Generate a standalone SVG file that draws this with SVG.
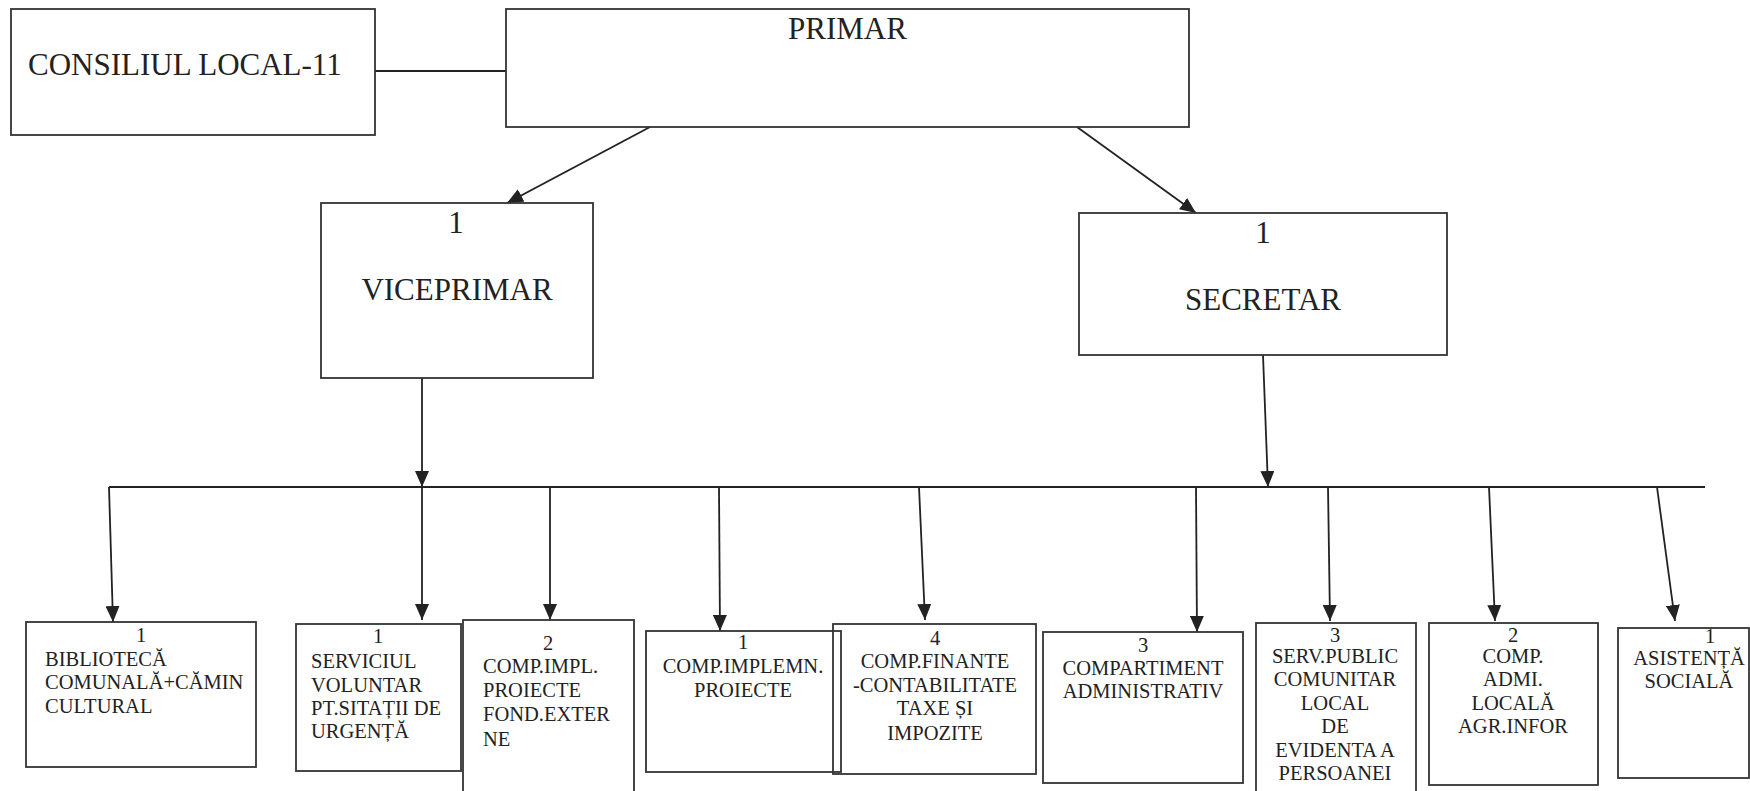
<svg xmlns="http://www.w3.org/2000/svg" width="1750" height="791" viewBox="0 0 1750 791">
<defs>
<marker id="ah" viewBox="0 0 16 14" refX="16" refY="7" markerWidth="16" markerHeight="14" markerUnits="userSpaceOnUse" orient="auto">
<path d="M0,0 L16,7 L0,14 z" fill="#222"/>
</marker>
<style>
rect{fill:#fff;stroke:#333;stroke-width:1.8}
.c line{stroke:#222;stroke-width:1.8;fill:none}
.c .a{marker-end:url(#ah)}
text{font-family:"Liberation Serif","Times New Roman",serif;fill:#222}
.big{font-size:31px}
.sm{font-size:20.5px}
.m{text-anchor:middle}
</style>
</defs>
<rect x="0" y="0" width="1750" height="791" style="fill:#fff;stroke:none"/>

<g class="c" id="connectors">
<line x1="375" y1="71" x2="506" y2="71"/>
<line class="a" x1="650" y1="127" x2="507" y2="203"/>
<line class="a" x1="1077" y1="127" x2="1196" y2="213"/>
<line class="a" x1="422" y1="378" x2="422" y2="487"/>
<line class="a" x1="1263" y1="355" x2="1268" y2="487"/>
<line x1="109" y1="487" x2="1705" y2="487"/>
<line class="a" x1="109" y1="487" x2="113" y2="622"/>
<line class="a" x1="422" y1="487" x2="422" y2="620"/>
<line class="a" x1="550" y1="487" x2="550" y2="620"/>
<line class="a" x1="719" y1="487" x2="720" y2="631"/>
<line class="a" x1="919" y1="487" x2="925" y2="620"/>
<line class="a" x1="1196" y1="487" x2="1197" y2="632"/>
<line class="a" x1="1328" y1="487" x2="1330" y2="621"/>
<line class="a" x1="1489" y1="487" x2="1495" y2="621"/>
<line class="a" x1="1657" y1="487" x2="1675" y2="621"/>
</g>

<g id="consiliul">
<rect x="11" y="9" width="364" height="126"/>
<text class="big" x="28" y="75">CONSILIUL LOCAL-11</text>
</g>

<g id="primar">
<rect x="506" y="9" width="683" height="118"/>
<text class="big m" x="847.5" y="39">PRIMAR</text>
</g>

<g id="viceprimar">
<rect x="321" y="203" width="272" height="175"/>
<text class="big m" x="456" y="233">1</text>
<text class="big m" x="457" y="300">VICEPRIMAR</text>
</g>

<g id="secretar">
<rect x="1079" y="213" width="368" height="142"/>
<text class="big m" x="1263" y="243">1</text>
<text class="big m" x="1263" y="310">SECRETAR</text>
</g>

<g id="biblioteca">
<rect x="26" y="622" width="230" height="145"/>
<text class="sm m" x="141" y="642">1</text>
<text class="sm" x="45" y="666">BIBLIOTECĂ</text>
<text class="sm" x="45" y="689">COMUNALĂ+CĂMIN</text>
<text class="sm" x="45" y="713">CULTURAL</text>
</g>

<g id="serviciul">
<rect x="296" y="624" width="165" height="147"/>
<text class="sm m" x="378" y="643">1</text>
<text class="sm" x="311" y="668">SERVICIUL</text>
<text class="sm" x="311" y="692">VOLUNTAR</text>
<text class="sm" x="311" y="715">PT.SITAȚII DE</text>
<text class="sm" x="311" y="738">URGENȚĂ</text>
</g>

<g id="comp-impl">
<rect x="463" y="620" width="171" height="180"/>
<text class="sm m" x="548" y="650">2</text>
<text class="sm" x="483" y="673">COMP.IMPL.</text>
<text class="sm" x="483" y="697">PROIECTE</text>
<text class="sm" x="483" y="721">FOND.EXTER</text>
<text class="sm" x="483" y="746">NE</text>
</g>

<g id="comp-implemn">
<rect x="646" y="631" width="195" height="141"/>
<text class="sm m" x="743" y="649">1</text>
<text class="sm m" x="743" y="673">COMP.IMPLEMN.</text>
<text class="sm m" x="743" y="697">PROIECTE</text>
</g>

<g id="comp-finante">
<rect x="833" y="624" width="203" height="150" style="fill:none"/>
<text class="sm m" x="935" y="645">4</text>
<text class="sm m" x="935" y="668">COMP.FINANTE</text>
<text class="sm m" x="935" y="692">-CONTABILITATE</text>
<text class="sm m" x="935" y="715">TAXE ȘI</text>
<text class="sm m" x="935" y="740">IMPOZITE</text>
</g>

<g id="compartiment">
<rect x="1043" y="632" width="200" height="151"/>
<text class="sm m" x="1143" y="652">3</text>
<text class="sm m" x="1143" y="675">COMPARTIMENT</text>
<text class="sm m" x="1143" y="698">ADMINISTRATIV</text>
</g>

<g id="serv-public">
<rect x="1256" y="623" width="160" height="180"/>
<text class="sm m" x="1335" y="642">3</text>
<text class="sm m" x="1335" y="663">SERV.PUBLIC</text>
<text class="sm m" x="1335" y="686">COMUNITAR</text>
<text class="sm m" x="1335" y="710">LOCAL</text>
<text class="sm m" x="1335" y="733">DE</text>
<text class="sm m" x="1335" y="757">EVIDENTA A</text>
<text class="sm m" x="1335" y="780">PERSOANEI</text>
</g>

<g id="comp-admi">
<rect x="1429" y="623" width="169" height="162"/>
<text class="sm m" x="1513" y="642">2</text>
<text class="sm m" x="1513" y="663">COMP.</text>
<text class="sm m" x="1513" y="686">ADMI.</text>
<text class="sm m" x="1513" y="710">LOCALĂ</text>
<text class="sm m" x="1513" y="733">AGR.INFOR</text>
</g>

<g id="asistenta">
<rect x="1618" y="628" width="131" height="150"/>
<text class="sm m" x="1710" y="643">1</text>
<text class="sm m" x="1689" y="665">ASISTENȚĂ</text>
<text class="sm m" x="1689" y="688">SOCIALĂ</text>
</g>
</svg>
